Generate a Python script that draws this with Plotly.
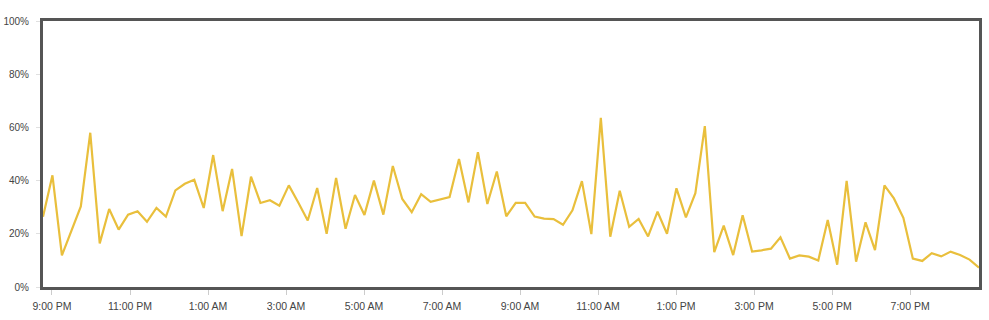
import pandas as pd
import plotly.graph_objects as go

# Time axis: 100 samples spanning 24 hours
start_time = "2024-01-01 20:46:10"
end_time = "2024-01-02 20:46:00"
n_points = 100

usage_pct = [
    26.4, 42.0, 11.9, 21.1, 30.3, 58.0, 16.4, 29.3, 21.6, 27.2,
    28.5, 24.5, 29.7, 26.5, 36.3, 38.8, 40.3, 29.7, 49.6, 28.5,
    44.4, 19.1, 41.5, 31.6, 32.6, 30.6, 38.2, 31.8, 25.0, 37.2,
    20.0, 41.0, 21.9, 34.6, 27.1, 40.0, 27.2, 45.5, 33.1, 28.1,
    34.9, 32.0, 32.8, 33.8, 48.1, 31.8, 50.7, 31.2, 43.4, 26.6,
    31.6, 31.6, 26.5, 25.7, 25.5, 23.4, 28.8, 39.8, 19.9, 63.6,
    18.9, 36.2, 22.6, 25.6, 19.0, 28.3, 20.0, 37.1, 26.2, 35.3,
    60.5, 13.1, 23.1, 12.0, 27.0, 13.3, 13.8, 14.4, 18.7, 10.7,
    11.9, 11.4, 10.0, 25.2, 8.4, 39.9, 9.5, 24.3, 13.9, 38.2,
    33.3, 26.0, 10.7, 9.8, 12.7, 11.5, 13.3, 12.0, 10.3, 7.3,
]

y_tick_vals = [0, 20, 40, 60, 80, 100]
y_tick_text = ["0%", "20%", "40%", "60%", "80%", "100%"]
first_tick = "2024-01-01 21:00"

times = pd.date_range(start=start_time, end=end_time, periods=n_points)

fig = go.Figure()
fig.add_trace(go.Scatter(
    x=times, y=usage_pct, mode="lines",
    line=dict(color="#E9BF3C", width=2.2),
    hoverinfo="skip", showlegend=False,
))

font_family = "Liberation Sans, Arial, sans-serif"
fig.update_layout(
    width=989, height=320,
    margin=dict(l=43, r=10, t=21, b=33, autoexpand=False),
    paper_bgcolor="white", plot_bgcolor="white",
    font=dict(family=font_family, size=10, color="#444444"),
)
fig.update_xaxes(
    type="date",
    range=[times[0], times[-1]],
    tick0=first_tick, dtick=2 * 3600 * 1000,
    tickformat="%-I:%M %p",
    showgrid=False, zeroline=False, automargin=False,
    showline=True, linecolor="#555555", linewidth=3, mirror=True,
    ticks="outside", ticklen=5, tickcolor="#cccccc", tickwidth=1,
    ticklabelstandoff=2,
    tickfont=dict(family=font_family, size=10.5, color="#444444"),
)
fig.update_yaxes(
    range=[0, 100],
    tickmode="array", tickvals=y_tick_vals, ticktext=y_tick_text,
    showgrid=False, zeroline=False, automargin=False,
    showline=True, linecolor="#555555", linewidth=3, mirror=True,
    ticks="outside", ticklen=4, tickcolor="#e0e0e0", tickwidth=1,
    ticklabelstandoff=5,
    tickfont=dict(family=font_family, size=10, color="#444444"),
)

fig.write_html("out.html")
